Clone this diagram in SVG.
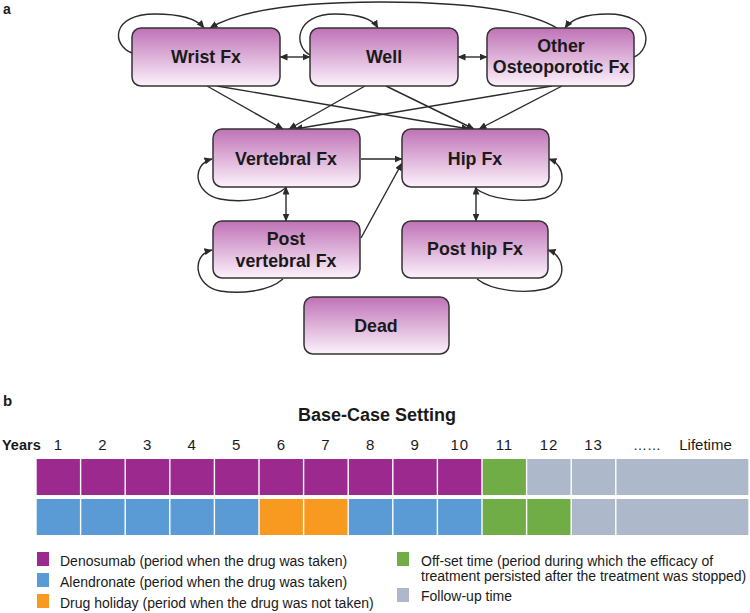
<svg xmlns="http://www.w3.org/2000/svg" width="750" height="613" viewBox="0 0 750 613">
<style>
text{font-family:"Liberation Sans",Arial,sans-serif;fill:#1a1a1a}
.node rect{fill:url(#ng);stroke:#333;stroke-width:1.5}
.nt{font-size:17.8px;font-weight:bold;text-anchor:middle}
.cn path{fill:none;stroke:#2b2b2b;stroke-width:1.4;marker-end:url(#ah)}
.cn path.dbl{marker-start:url(#ah)}
.lbl{font-size:15px;font-weight:bold}
.yr{font-size:15px;text-anchor:middle;letter-spacing:0.8px}
.lg{font-size:14px}
.p{fill:#9c2a8e}.b{fill:#5b9bd5}.o{fill:#f79a1f}.g{fill:#70ad47}.s{fill:#adb9ca}
</style>
<defs>
<linearGradient id="ng" x1="0" y1="0" x2="0" y2="1">
<stop offset="0" stop-color="#bf72b6"/>
<stop offset="1" stop-color="#fcf2fb"/>
</linearGradient>
<marker id="ah" markerUnits="userSpaceOnUse" markerWidth="8" markerHeight="7" refX="7.5" refY="3.5" orient="auto-start-reverse">
<path d="M0,0 L8,3.5 L0,7 z" fill="#2b2b2b"/>
</marker>
</defs>

<text class="lbl" x="3" y="14" style="font-size:14px">a</text>

<g id="connectors" class="cn">
<path d="M557,28 C520,6 440,2 380,2 C300,2 240,10 210,28"/>
<path d="M132,53 C112,46 110,14 155,14 C180,14 196,18 204,28"/>
<path d="M310,55 C293,46 295,14 335,14 C358,14 372,18 378,28"/>
<path d="M634,57 C652,50 654,14 608,14 C588,14 572,18 565,28"/>
<path class="dbl" d="M280,57 L310,57"/>
<path class="dbl" d="M458,57 L487,57"/>
<path d="M207,86 L283,129"/>
<path d="M217,86 L469,129"/>
<path d="M365,86 L289,129"/>
<path d="M386,86 L474,129"/>
<path d="M552,86 L295,129"/>
<path d="M562,86 L479,129"/>
<path d="M361,159 L402,159"/>
<path d="M361,238 L402,163"/>
<path class="dbl" d="M286,187 L286,221"/>
<path class="dbl" d="M476,187 L476,221"/>
<path d="M287,187 C272,200 240,203 220,199 C195,194 190,165 212,159"/>
<path d="M283,279 C268,292 240,294 220,291 C195,287 190,255 212,250"/>
<path d="M475,188 C490,200 525,203 545,198 C568,190 566,165 549,159"/>
<path d="M477,279 C492,291 525,294 545,289 C568,283 566,256 548,250"/>
</g>

<g id="wrist" class="node"><rect x="132" y="28" width="148" height="58" rx="9"/><text class="nt" x="206" y="63">Wrist Fx</text></g>
<g id="well" class="node"><rect x="310" y="28" width="148" height="58" rx="9"/><text class="nt" x="384" y="63">Well</text></g>
<g id="other" class="node"><rect x="487" y="28" width="147" height="58" rx="9"/><text class="nt" x="561" y="52">Other</text><text class="nt" x="561" y="73">Osteoporotic Fx</text></g>
<g id="vertebral" class="node"><rect x="213" y="129" width="147" height="58" rx="9"/><text class="nt" x="286" y="165">Vertebral Fx</text></g>
<g id="hip" class="node"><rect x="402" y="129" width="147" height="58" rx="9"/><text class="nt" x="475" y="165">Hip Fx</text></g>
<g id="postvertebral" class="node"><rect x="213" y="221" width="147" height="57" rx="9"/><text class="nt" x="286" y="245">Post</text><text class="nt" x="286" y="267">vertebral Fx</text></g>
<g id="posthip" class="node"><rect x="402" y="221" width="146" height="57" rx="9"/><text class="nt" x="475" y="255">Post hip Fx</text></g>
<g id="dead" class="node"><rect x="304" y="297" width="145" height="57" rx="9"/><text class="nt" x="376" y="332">Dead</text></g>

<text class="lbl" x="3" y="406">b</text>
<text x="377" y="421" style="font-size:18px;font-weight:bold" text-anchor="middle">Base-Case Setting</text>
<text x="2" y="450" style="font-size:14.5px;font-weight:bold">Years</text>
<g id="years">
<text class="yr" x="58.3" y="450">1</text>
<text class="yr" x="102.9" y="450">2</text>
<text class="yr" x="147.5" y="450">3</text>
<text class="yr" x="192.1" y="450">4</text>
<text class="yr" x="236.7" y="450">5</text>
<text class="yr" x="281.3" y="450">6</text>
<text class="yr" x="325.9" y="450">7</text>
<text class="yr" x="370.5" y="450">8</text>
<text class="yr" x="415.1" y="450">9</text>
<text class="yr" x="459.7" y="450">10</text>
<text class="yr" x="504.3" y="450">11</text>
<text class="yr" x="548.9" y="450">12</text>
<text class="yr" x="593.5" y="450">13</text>
<text x="647" y="450" style="font-size:14px" text-anchor="middle">……</text>
<text x="705.5" y="450" style="font-size:15px" text-anchor="middle">Lifetime</text>
</g>

<g id="row1">
<rect class="p" x="36.7" y="459" width="43.2" height="36"/>
<rect class="p" x="81.3" y="459" width="43.2" height="36"/>
<rect class="p" x="125.9" y="459" width="43.2" height="36"/>
<rect class="p" x="170.5" y="459" width="43.2" height="36"/>
<rect class="p" x="215.1" y="459" width="43.2" height="36"/>
<rect class="p" x="259.7" y="459" width="43.2" height="36"/>
<rect class="p" x="304.3" y="459" width="43.2" height="36"/>
<rect class="p" x="348.9" y="459" width="43.2" height="36"/>
<rect class="p" x="393.5" y="459" width="43.2" height="36"/>
<rect class="p" x="438.1" y="459" width="43.2" height="36"/>
<rect class="g" x="482.7" y="459" width="43.2" height="36"/>
<rect class="s" x="527.3" y="459" width="43.2" height="36"/>
<rect class="s" x="571.9" y="459" width="43.2" height="36"/>
<rect class="s" x="616.5" y="459" width="131.8" height="36"/>
</g>
<g id="row2">
<rect class="b" x="36.7" y="499" width="43.2" height="36"/>
<rect class="b" x="81.3" y="499" width="43.2" height="36"/>
<rect class="b" x="125.9" y="499" width="43.2" height="36"/>
<rect class="b" x="170.5" y="499" width="43.2" height="36"/>
<rect class="b" x="215.1" y="499" width="43.2" height="36"/>
<rect class="o" x="259.7" y="499" width="43.2" height="36"/>
<rect class="o" x="304.3" y="499" width="43.2" height="36"/>
<rect class="b" x="348.9" y="499" width="43.2" height="36"/>
<rect class="b" x="393.5" y="499" width="43.2" height="36"/>
<rect class="b" x="438.1" y="499" width="43.2" height="36"/>
<rect class="g" x="482.7" y="499" width="43.2" height="36"/>
<rect class="g" x="527.3" y="499" width="43.2" height="36"/>
<rect class="s" x="571.9" y="499" width="43.2" height="36"/>
<rect class="s" x="616.5" y="499" width="131.8" height="36"/>
</g>

<g id="legend">
<rect class="p" x="37" y="552" width="12" height="14"/>
<text class="lg" x="60" y="565.5">Denosumab (period when the drug was taken)</text>
<rect class="b" x="37" y="573" width="12" height="14"/>
<text class="lg" x="60" y="586.5">Alendronate (period when the drug was taken)</text>
<rect class="o" x="37" y="594" width="12" height="14"/>
<text class="lg" x="60" y="608">Drug holiday (period when the drug was not taken)</text>
<rect class="g" x="397" y="552" width="12" height="14"/>
<text class="lg" x="421" y="565.5">Off-set time (period during which the efficacy of</text>
<text class="lg" x="421" y="581">treatment persisted after the treatment was stopped)</text>
<rect class="s" x="397" y="588" width="12" height="14"/>
<text class="lg" x="421" y="600.5">Follow-up time</text>
</g>
</svg>
